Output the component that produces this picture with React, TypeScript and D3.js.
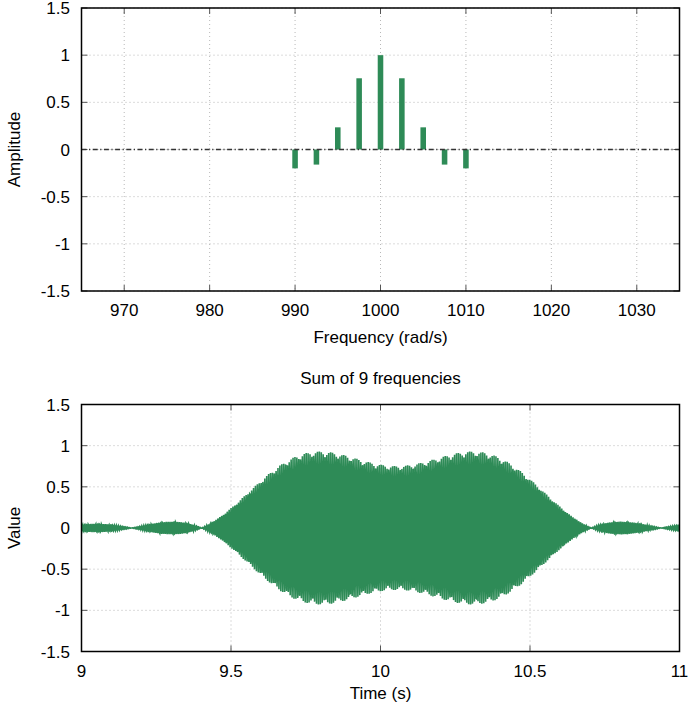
import React from "react";
import * as d3 from "d3";

const frequencies = [990, 992.5, 995, 997.5, 1000, 1002.5, 1005, 1007.5, 1010];
const amplitudes = [-0.2, -0.16, 0.235, 0.755, 1.0, 0.755, 0.235, -0.16, -0.2];
const freqTicks = [970, 980, 990, 1000, 1010, 1020, 1030];
const ampTicks = [-1.5, -1, -0.5, 0, 0.5, 1, 1.5];
const timeTicks = [9, 9.5, 10, 10.5, 11];
const valueTicks = [-1.5, -1, -0.5, 0, 0.5, 1, 1.5];
const timeRange = [9, 11];
const sampleCount = 2500;
const sumDivisor = 3;

const W = 690;
const H = 707;
const FONT = "'Liberation Sans', Arial, Helvetica, sans-serif";
const GREEN = "#2e8b57";
const FS = 17;

function fmt(v: number) {
  return String(v);
}

export default function App() {
  const left = 81.5;
  const right = 679.5;

  // top panel
  const tTop = 8;
  const tBot = 291;
  const x1 = d3.scaleLinear().domain([965, 1035]).range([left, right]);
  const y1 = d3.scaleLinear().domain([-1.5, 1.5]).range([tBot, tTop]);
  const barW = x1(0.65) - x1(0);

  // bottom panel
  const bTop = 404.5;
  const bBot = 651.5;
  const x2 = d3.scaleLinear().domain(timeRange).range([left, right]);
  const y2 = d3.scaleLinear().domain([-1.5, 1.5]).range([bBot, bTop]);

  const samples: [number, number][] = [];
  for (let i = 0; i < sampleCount; i++) {
    const t = timeRange[0] + ((timeRange[1] - timeRange[0]) * i) / (sampleCount - 1);
    let s = 0;
    for (let k = 0; k < frequencies.length; k++) s += amplitudes[k] * Math.cos(frequencies[k] * t);
    samples.push([t, s / sumDivisor]);
  }
  const line = d3
    .line<[number, number]>()
    .x((d) => x2(d[0]))
    .y((d) => y2(d[1]));

  const grid = "#b8b8b8";

  const panelFrame = (
    xs: d3.ScaleLinear<number, number>,
    ys: d3.ScaleLinear<number, number>,
    xt: number[],
    yt: number[],
    top: number,
    bot: number,
    key: string
  ) => (
    <g key={key}>
      {xt.map((v) => (
        <line key={"gx" + v} x1={xs(v)} x2={xs(v)} y1={top} y2={bot} stroke={grid} strokeWidth={1} strokeDasharray="1,3" />
      ))}
      {yt.map((v) => (
        <line key={"gy" + v} x1={left} x2={right} y1={ys(v)} y2={ys(v)} stroke={grid} strokeWidth={1} strokeDasharray="1,3" />
      ))}
      {xt.map((v) => (
        <g key={"tx" + v}>
          <line x1={xs(v)} x2={xs(v)} y1={bot} y2={bot - 6} stroke="#555" strokeWidth={1} />
          <line x1={xs(v)} x2={xs(v)} y1={top} y2={top + 6} stroke="#555" strokeWidth={1} />
          <text x={xs(v)} y={bot + 25} textAnchor="middle" fontSize={FS} fontFamily={FONT}>
            {fmt(v)}
          </text>
        </g>
      ))}
      {yt.map((v) => (
        <g key={"ty" + v}>
          <line x1={left} x2={left + 6} y1={ys(v)} y2={ys(v)} stroke="#555" strokeWidth={1} />
          <line x1={right} x2={right - 6} y1={ys(v)} y2={ys(v)} stroke="#555" strokeWidth={1} />
          <text x={70} y={ys(v) + 6} textAnchor="end" fontSize={FS} fontFamily={FONT}>
            {fmt(v)}
          </text>
        </g>
      ))}
    </g>
  );

  return (
    <svg width={W} height={H} style={{ position: "absolute", left: 0, top: 0, background: "#fff" }}>
      <rect x={0} y={0} width={W} height={H} fill="#fff" />
      {panelFrame(x1, y1, freqTicks, ampTicks, tTop, tBot, "p1")}
      {frequencies.map((f, i) => {
        const a = amplitudes[i];
        return (
          <rect
            key={"b" + f}
            x={x1(f) - barW / 2}
            y={Math.min(y1(a), y1(0))}
            width={barW}
            height={Math.abs(y1(a) - y1(0))}
            fill={GREEN}
          />
        );
      })}
      <line x1={left} x2={right} y1={y1(0)} y2={y1(0)} stroke="#333" strokeWidth={1.5} strokeDasharray="5,2.5,1.2,2.5" />
      <rect x={left} y={tTop} width={right - left} height={tBot - tTop} fill="none" stroke="#000" strokeWidth={1.5} />
      <text x={(left + right) / 2} y={343} textAnchor="middle" fontSize={FS} fontFamily={FONT}>
        Frequency (rad/s)
      </text>
      <text transform={`translate(20,${(tTop + tBot) / 2}) rotate(-90)`} textAnchor="middle" fontSize={FS} fontFamily={FONT}>
        Amplitude
      </text>

      {panelFrame(x2, y2, timeTicks, valueTicks, bTop, bBot, "p2")}
      <g>
        <clipPath id="clip2">
          <rect x={left} y={bTop} width={right - left} height={bBot - bTop} />
        </clipPath>
        <path d={line(samples) || ""} fill="none" stroke={GREEN} strokeWidth={1.6} clipPath="url(#clip2)" />
      </g>
      <rect x={left} y={bTop} width={right - left} height={bBot - bTop} fill="none" stroke="#000" strokeWidth={1.5} />
      <text x={(left + right) / 2} y={384} textAnchor="middle" fontSize={FS} fontFamily={FONT}>
        Sum of 9 frequencies
      </text>
      <text x={(left + right) / 2} y={699} textAnchor="middle" fontSize={FS} fontFamily={FONT}>
        Time (s)
      </text>
      <text transform={`translate(20,${(bTop + bBot) / 2}) rotate(-90)`} textAnchor="middle" fontSize={FS} fontFamily={FONT}>
        Value
      </text>
    </svg>
  );
}
